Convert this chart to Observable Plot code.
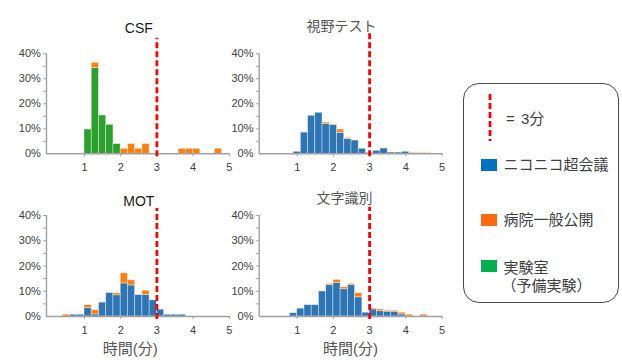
<!DOCTYPE html>
<html>
<head>
<meta charset="utf-8">
<script src="https://cdn.jsdelivr.net/npm/d3@7"></script>
<script src="https://cdn.jsdelivr.net/npm/@observablehq/plot@0.6"></script>
<style>
  body { margin: 0; background: #fff; }
  #wrap { position: relative; width: 622px; height: 360px; overflow: hidden;
          font-family: 'Liberation Sans', 'Noto Sans CJK JP', sans-serif; }
  #wrap > svg { position: absolute; left: 0; }
  #legend { position: absolute; left: 463px; top: 83px; width: 154px; height: 218px;
            border: 1.3px solid #4a4a4a; border-radius: 16px; box-sizing: content-box; }
  .lg { position: absolute; font-size: 15px; color: #404040; white-space: nowrap;
        font-family: 'Liberation Sans', 'Noto Sans CJK JP', sans-serif; line-height: 1; }
  .sw { position: absolute; width: 16px; height: 12px; }
</style>
</head>
<body>
<div id="wrap"></div>
<script>
// ---- data (percent of participants per 0.2-minute bin) ----
const binWidth = 0.2;
const xTicks = [1, 2, 3, 4, 5];
const yTicks = [0, 0.1, 0.2, 0.3, 0.4];
const yMinorTicks = [0.05, 0.1, 0.15, 0.2, 0.25, 0.3, 0.35, 0.4];
const limitMinutes = 3;

// CSF
const csfStarts = [1.0, 1.2, 1.4, 1.6, 1.8, 2.0, 2.2, 2.4, 2.6, 3.6, 3.8, 4.0, 4.6];
const csfLab    = [9.7, 34.3, 15.3, 11.6, 3.9, 0, 0, 0, 0, 0, 0, 0, 0];
const csfHosp   = [0, 2.1, 0, 0, 0, 2.0, 3.9, 2.0, 3.9, 2.0, 2.0, 2.0, 2.0];

// 視野テスト
const visStarts = [0.9, 1.1, 1.3, 1.5, 1.7, 1.9, 2.1, 2.3, 2.5, 2.7, 2.9, 3.1, 3.3, 3.5, 3.7, 3.9, 4.1, 4.3, 4.5];
const visNico   = [0.8, 8.5, 15.2, 16.4, 12.0, 11.5, 8.4, 5.9, 5.3, 2.0, 0.4, 1.2, 2.1, 0.5, 0.5, 0.8, 0.3, 0.2, 0];
const visHosp   = [0, 0.2, 0, 0, 0.5, 0.3, 1.3, 0.4, 0, 0, 0, 0, 0, 0, 0, 0, 0.1, 0.2, 0.3];

// MOT
const motStarts = [0.4, 0.6, 0.8, 1.0, 1.2, 1.4, 1.6, 1.8, 2.0, 2.2, 2.4, 2.6, 2.8, 3.0, 3.2, 3.4, 3.6];
const motNico   = [0, 0.7, 0.7, 3.3, 0.8, 5.5, 9.3, 8.4, 13.1, 12.3, 8.5, 8.5, 6.4, 2.7, 0.7, 0.7, 0.7];
const motHosp   = [0.7, 0, 0, 1.2, 1.7, 0, 0, 0.8, 4.0, 2.0, 0, 1.7, 0, 0, 0, 0, 0];

// 文字識別
const chrStarts = [0.8, 1.0, 1.2, 1.4, 1.6, 1.8, 2.0, 2.2, 2.4, 2.6, 2.8, 3.0, 3.2, 3.4, 3.6, 3.8, 4.0, 4.2, 4.4];
const chrNico   = [1.3, 3.1, 4.5, 4.5, 9.9, 12.4, 13.3, 10.8, 12.4, 7.6, 1.5, 2.8, 2.1, 1.9, 1.9, 0.8, 0, 0, 0];
const chrHosp   = [0, 0, 0, 0, 0, 0.5, 1.2, 0.8, 0.5, 1.6, 0, 0.4, 0.7, 0.4, 0.4, 0.7, 0.7, 0, 0.7];

// ---- styles ----
const colBlue = "#2e75b6", colOrange = "#ff7f0e", colGreen = "#2ca02c";
const axisGrey = "#a0a0a0", textGrey = "#404040";

const panels = [
  {title: "CSF", titleColor: "#1a1a1a", titleDx: 0, titleDy: -30.6, starts: csfStarts, base: csfLab, baseColor: colGreen, hosp: csfHosp,
   top: 0, mt: 53.3, mb: 26.7, ml: 47.8, mr: 393.2, redTop: 0.462, xLabel: null},
  {title: "視野テスト", titleColor: "#555", titleDx: -10, titleDy: -32.6, starts: visStarts, base: visNico, baseColor: colBlue, hosp: visHosp,
   top: 0, mt: 53.3, mb: 26.7, ml: 260.5, mr: 180.5, redTop: 0.481, xLabel: null},
  {title: "MOT", titleColor: "#1a1a1a", titleDx: 0, titleDy: -19, starts: motStarts, base: motNico, baseColor: colBlue, hosp: motHosp,
   top: 180, mt: 35, mb: 44, ml: 47.8, mr: 393.2, redTop: 0.428, xLabel: "時間(分)", xLabelDx: -8.5},
  {title: "文字識別", titleColor: "#555", titleDx: -7, titleDy: -22, starts: chrStarts, base: chrNico, baseColor: colBlue, hosp: chrHosp,
   top: 180, mt: 35, mb: 44, ml: 260.5, mr: 180.5, redTop: 0.433, xLabel: "時間(分)", xLabelDx: -1}
];

const wrap = document.getElementById("wrap");

for (const p of panels) {
  const lower = p.starts.map((s, i) => ({x1: s, x2: s + binWidth, y1: 0, y2: p.base[i] / 100})).filter(d => d.y2 > 0);
  const upper = p.starts.map((s, i) => ({x1: s, x2: s + binWidth, y1: p.base[i] / 100, y2: (p.base[i] + p.hosp[i]) / 100})).filter(d => d.y2 > d.y1);
  const rectOpts = {x1: "x1", x2: "x2", y1: "y1", y2: "y2", stroke: "#ffffff", strokeWidth: 0.7, strokeOpacity: 0.55};
  const marks = [
    Plot.rect(lower, {...rectOpts, fill: p.baseColor}),
    Plot.rect(upper, {...rectOpts, fill: colOrange}),
    Plot.ruleY([0], {x1: -0.05, x2: 5.03, stroke: axisGrey, strokeWidth: 1.4}),
    Plot.ruleX([-0.05], {y1: 0, y2: 0.4, stroke: axisGrey, strokeWidth: 1.4}),
    Plot.ruleY(yMinorTicks, {y: d => d, x1: -0.13, x2: -0.05, stroke: axisGrey, strokeWidth: 1}),
    Plot.axisY(yTicks, {tickSize: 0, tickPadding: 7.5, tickFormat: d3.format(".0%"), fill: textGrey, fontSize: 11}),
    Plot.axisX(xTicks, {tickSize: 3, tickPadding: 6.5, stroke: axisGrey, fill: textGrey, fontSize: 11}),
    Plot.ruleX([limitMinutes], {y1: -0.012, y2: p.redTop, stroke: "#ff0000", strokeWidth: 2.8, strokeDasharray: "6,3"}),
    Plot.text([p.title], {text: d => d, frameAnchor: "top", dx: p.titleDx, dy: p.titleDy, fontSize: 14, fill: p.titleColor})
  ];
  if (p.xLabel) {
    marks.push(Plot.text([p.xLabel], {text: d => d, frameAnchor: "bottom", dx: p.xLabelDx, dy: 37, fontSize: 15, fill: "#555"}));
  }
  const svg = Plot.plot({
    width: 622, height: 180,
    marginTop: p.mt, marginBottom: p.mb, marginLeft: p.ml, marginRight: p.mr,
    x: {domain: [0, 5], axis: null},
    y: {domain: [0, 0.4], axis: null},
    style: {background: "none", overflow: "visible", fontFamily: "'Liberation Sans', 'Noto Sans CJK JP', sans-serif", fontSize: "11px"},
    marks
  });
  svg.style.position = "absolute";
  svg.style.top = p.top + "px";
  svg.style.left = "0px";
  wrap.appendChild(svg);
}

// ---- legend ----
const legendItems = [
  {label: "ニコニコ超会議", color: "#0070c0", top: 158 - 83},
  {label: "病院一般公開", color: "#ff6a10", top: 213 - 83},
  {label: "実験室", sub: "（予備実験）", color: "#00b050", top: 258.5 - 83}
];
const legend = document.createElement("div");
legend.id = "legend";
wrap.appendChild(legend);
const ns = "http://www.w3.org/2000/svg";
const ls = document.createElementNS(ns, "svg");
ls.setAttribute("width", "10"); ls.setAttribute("height", "50");
ls.style.position = "absolute"; ls.style.left = (489.3 - 463 - 5) + "px"; ls.style.top = (92.5 - 83) + "px";
const ln = document.createElementNS(ns, "line");
ln.setAttribute("x1", 5); ln.setAttribute("x2", 5); ln.setAttribute("y1", 0); ln.setAttribute("y2", 47);
ln.setAttribute("stroke", "#ff0000"); ln.setAttribute("stroke-width", 2.8); ln.setAttribute("stroke-dasharray", "6,3");
ls.appendChild(ln); legend.appendChild(ls);
const eq = document.createElement("div");
eq.className = "lg"; eq.textContent = "=  " + limitMinutes + "分"; eq.style.wordSpacing = "2px";
eq.style.left = (505 - 463) + "px"; eq.style.top = (118.3 - 83 - 8) + "px";
legend.appendChild(eq);
for (const it of legendItems) {
  const sw = document.createElement("div");
  sw.className = "sw"; sw.style.background = it.color;
  sw.style.left = (480 - 463) + "px"; sw.style.top = it.top + "px";
  legend.appendChild(sw);
  const t = document.createElement("div");
  t.className = "lg"; t.textContent = it.label;
  t.style.left = (502.5 - 463) + "px"; t.style.top = (it.top + 6 - 8 + (it.sub ? 2.5 : 0)) + "px";
  legend.appendChild(t);
  if (it.sub) {
    const s = document.createElement("div");
    s.className = "lg"; s.textContent = it.sub;
    s.style.left = (502.5 - 463 - 2) + "px"; s.style.top = (285 - 83 - 8) + "px";
    legend.appendChild(s);
  }
}
</script>
</body>
</html>
